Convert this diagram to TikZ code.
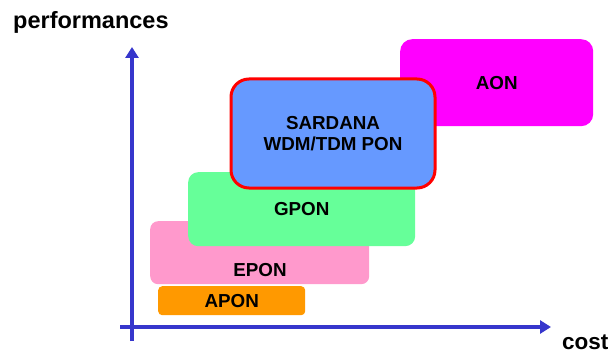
\documentclass[tikz,border=0pt]{standalone}
\usepackage{fontspec}
\setmainfont{Liberation Sans}
\usetikzlibrary{arrows.meta}
\definecolor{axisblue}{HTML}{3636CC}
\definecolor{aoncol}{HTML}{FF00FF}
\definecolor{sardcol}{HTML}{6699FF}
\definecolor{gponcol}{HTML}{66FF99}
\definecolor{eponcol}{HTML}{FF99CC}
\definecolor{aponcol}{HTML}{FF9900}
\tikzset{
  box/.style={rectangle, draw=none, inner sep=0pt, anchor=north west,
    font=\fontsize{18.8}{21}\selectfont\bfseries, align=center},
  boxtext/.style={inner sep=0pt, font=\fontsize{18.8}{21}\selectfont\bfseries},
  axislabel/.style={inner sep=0pt, anchor=base west, font=\fontsize{22.5}{26}\selectfont\bfseries},
  axis/.style={draw=axisblue, line width=4pt,
    -{Triangle[length=11pt,width=13pt]}, color=axisblue},
}
\begin{document}
\begin{tikzpicture}[x=1pt, y=-1pt]
\useasboundingbox (0,0) rectangle (614,353);

% axes
\coordinate (xstart) at (120,327);
\coordinate (xend) at (551,327);
\coordinate (ystart) at (132,341);
\coordinate (yend) at (132,47);
\draw[axis] (xstart) -- (xend);
\draw[axis] (ystart) -- (yend);
\node[axislabel, font=\fontsize{23.5}{26}\selectfont\bfseries] (perf) at (13,29) {performances};
\node[axislabel] (cost) at (562,349) {cost};

% technology boxes, back to front
\node[box, fill=aponcol, rounded corners=4pt, minimum width=147pt, minimum height=29pt]
  (apon) at (158,286) {APON};
\node[box, fill=eponcol, rounded corners=8pt, minimum width=219pt, minimum height=63pt]
  (epon) at (150,221) {};
\node[boxtext] (epontext) at (260,270) {EPON};
\node[box, fill=gponcol, rounded corners=10pt, minimum width=227pt, minimum height=74pt]
  (gpon) at (188,172) {GPON};
\node[box, fill=aoncol, rounded corners=12pt, minimum width=193pt, minimum height=87pt]
  (aon) at (400,39) {AON};
\node[box, fill=sardcol, draw=red, line width=3pt, rounded corners=18pt,
  minimum width=204pt, minimum height=109pt]
  (sardana) at (229.5,77.5) {SARDANA\\WDM/TDM PON};
\end{tikzpicture}
\end{document}
